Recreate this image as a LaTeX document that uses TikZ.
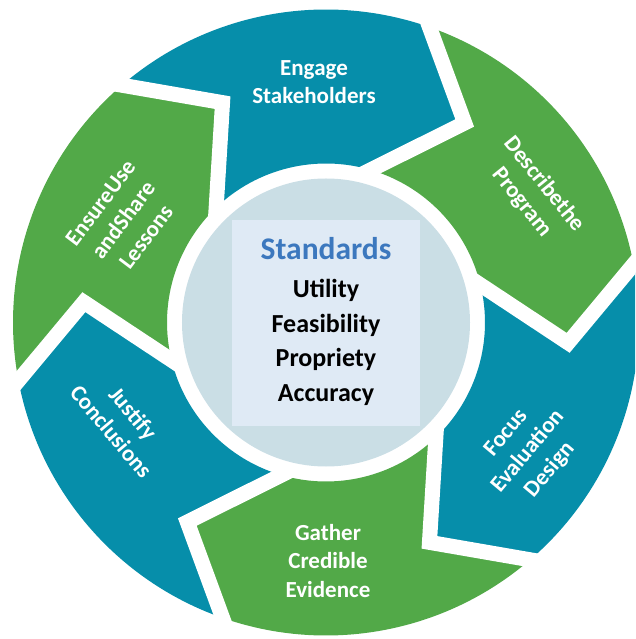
\documentclass[tikz,border=0pt]{standalone}
\usepackage{fontspec}
\setmainfont{Carlito}
\definecolor{teal1}{HTML}{068EAA}
\definecolor{green1}{HTML}{52A948}
\definecolor{circ}{HTML}{CADEE5}
\definecolor{boxc}{HTML}{DFEAF5}
\definecolor{stdblue}{HTML}{3C78BE}
\begin{document}
\begin{tikzpicture}[x=1pt,y=1pt,
  seglabel/.style={text=white, font=\bfseries\fontsize{23}{28.5}\selectfont, align=center, inner sep=0pt},
  stdline/.style={font=\bfseries\fontsize{26}{30}\selectfont, anchor=base, inner sep=0pt},
  gapline/.style={white, line width=15pt, line join=miter, shorten <=-15pt, shorten >=-15pt}]
\useasboundingbox (-326,-316.5) rectangle (309,322.5);
\begin{scope}
\clip (-326,-316.5) rectangle (309,322.5);
\foreach \s/\c in {130.7/teal1, 70.7/green1, 10.7/teal1, -49.3/green1, -109.3/teal1, -169.3/green1}{
  \pgfmathsetmacro\e{\s-60}
  \pgfmathsetmacro\et{\e-15.5}
  \pgfmathsetmacro\ei{\e+3}
  \pgfmathsetmacro\si{\s+3}
  \pgfmathsetmacro\st{\s-15.5}
  \fill[\c] (\s:313pt) arc[start angle=\s, end angle=\e, radius=313pt] -- (\et:243pt) -- (\ei:159pt) arc[start angle=\ei, end angle=\si, radius=159pt] -- (\st:243pt) -- cycle;
}
\foreach \b in {130.7,70.7,10.7,-49.3,-109.3,-169.3}{
  \pgfmathsetmacro\bt{\b-15.5}
  \pgfmathsetmacro\bi{\b+3}
  \draw[gapline] (\b:313pt) -- (\bt:243pt) -- (\bi:159pt);
}
\end{scope}
\node[circle, fill=circ, minimum size=288pt, inner sep=0pt] (hub) at (0,0) {};
\node[fill=boxc, minimum width=188pt, minimum height=206pt, inner sep=0pt] (stdbox) at (0,-0.5) {};
\node[stdline, text=stdblue, font=\bfseries\fontsize{31.5}{36}\selectfont] (std) at (0,62.5) {Standards};
\node[stdline] (utility) at (0,24.5) {Utility};
\node[stdline] (feas) at (0,-10.5) {Feasibility};
\node[stdline] (prop) at (0,-44.5) {Propriety};
\node[stdline] (acc) at (0,-79.5) {Accuracy};
\node[seglabel] (engage) at (-12,240.5) {Engage\\Stakeholders};
\node[seglabel, rotate=-51] (describe) at (206.7,129.2) {Describethe\\Program};
\node[seglabel, rotate=50] (focus) at (202.3,-129.2) {Focus\\Evaluation\\Design};
\node[seglabel] (gather) at (2,-238.2) {Gather\\Credible\\Evidence};
\node[seglabel, rotate=-50] (justify) at (-203.7,-99.8) {Justify\\Conclusions};
\node[seglabel, rotate=53] (ensure) at (-202.7,102.5) {EnsureUse\\andShare\\Lessons};
\end{tikzpicture}
\end{document}
